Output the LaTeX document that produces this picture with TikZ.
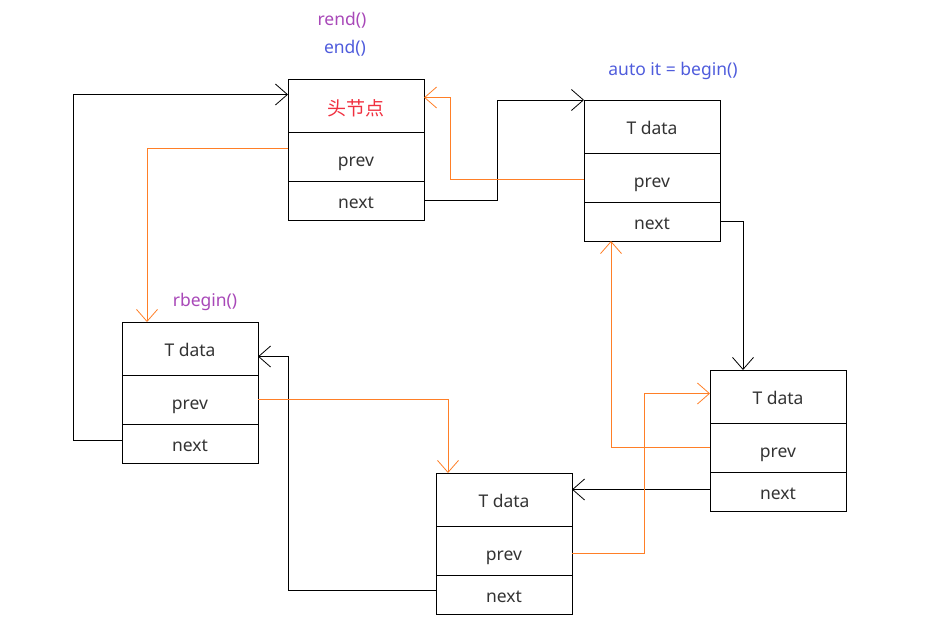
\documentclass[tikz,border=0pt]{standalone}
\usepackage{fontspec}
\setmainfont{Noto Sans}
\newfontfamily\cjk{Noto Sans CJK SC}
\usepackage{tikz}
\usetikzlibrary{arrows.meta, positioning}
\usepackage{xcolor}
\definecolor{linkorange}{RGB}{255,127,39}
\definecolor{itpurple}{RGB}{168,72,184}
\definecolor{itblue}{RGB}{79,92,220}
\definecolor{headred}{RGB}{240,48,64}

\begin{document}
\begin{tikzpicture}[x=1pt,y=-1pt,>={Straight Barb[length=12pt,width=21pt]},
  font=\fontsize{17.5}{20}\selectfont,text=black!80]
  \tikzstyle{part}=[draw,line width=0.9pt,minimum width=136pt,outer sep=0pt,inner sep=0pt,text depth=4pt]
  \tikzstyle{datapart}=[part,minimum height=53pt,text height=19pt]
  \tikzstyle{prevpart}=[part,minimum height=49pt,text height=24pt]
  \tikzstyle{nextpart}=[part,minimum height=39pt,text height=20pt]
  \tikzstyle{nextlink}=[->,line width=0.8pt]
  \tikzstyle{prevlink}=[->,line width=0.8pt,linkorange]

  \useasboundingbox (0,0) rectangle (935,640);

  % head node
  \node[datapart,anchor=north west,text=headred,text height=23pt] (head) at (288,79)
    {\cjk\fontsize{19}{22}\selectfont 头节点};
  \node[prevpart]                       (head_p) [below=0pt of head]   {prev};
  \node[nextpart]                       (head_n) [below=0pt of head_p] {next};

  % list nodes
  \node[datapart,anchor=north west]     (n1)     at (584,100) {T data};
  \node[prevpart]                       (n1_p)   [below=0pt of n1]     {prev};
  \node[nextpart]                       (n1_n)   [below=0pt of n1_p]   {next};

  \node[datapart,anchor=north west]     (n2)     at (122,322) {T data};
  \node[prevpart]                       (n2_p)   [below=0pt of n2]     {prev};
  \node[nextpart]                       (n2_n)   [below=0pt of n2_p]   {next};

  \node[datapart,anchor=north west]     (n3)     at (710,370) {T data};
  \node[prevpart]                       (n3_p)   [below=0pt of n3]     {prev};
  \node[nextpart]                       (n3_n)   [below=0pt of n3_p]   {next};

  \node[datapart,anchor=north west]     (n4)     at (436,473) {T data};
  \node[prevpart]                       (n4_p)   [below=0pt of n4]     {prev};
  \node[nextpart]                       (n4_n)   [below=0pt of n4_p]   {next};

  % iterators
  \node[text=itpurple] (rend)   at (342,20)  {rend()};
  \node[text=itblue]   (end)    at (345,48)  {end()};
  \node[text=itblue]   (begin)  at (673,71)  {auto it = begin()};
  \node[text=itpurple] (rbegin) at (205,302) {rbegin()};

  % next links
  \draw[nextlink] (head_n.east) -- ++(73,0) |- (n1.north west);
  \draw[nextlink] (n1_n.east) -- ++(23,0) -| ([xshift=33pt]n3.north west);
  \draw[nextlink] ([yshift=2pt]n3_n.west) -- ([yshift=2pt]n3_n.west -| n4.east);
  \draw[nextlink] ([yshift=4pt]n4_n.west) -- ++(-148,0) |- ([yshift=-8pt]n2.east);
  \draw[nextlink] ([yshift=3pt]n2_n.west) -- ++(-49,0) |- ([yshift=11pt]head.west);

  % prev links
  \draw[prevlink] ([yshift=8pt]head_p.west) -- ++(-141,0) -| ([xshift=25pt]n2.north west);
  \draw[prevlink] ([yshift=-2pt]n1_p.west) -- ++(-134,0) |- ([yshift=8pt]head.east);
  \draw[prevlink] (n2_p.east) -- ++(190,0) -| ([xshift=12pt]n4.north west);
  \draw[prevlink] ([yshift=-3pt]n4_p.east) -- ++(72,0) |- ([yshift=3pt]n3.west);
  \draw[prevlink] (n3_p.west) -- ++(-99,0) -| ([xshift=27pt]n1_n.south west);
\end{tikzpicture}
\end{document}
